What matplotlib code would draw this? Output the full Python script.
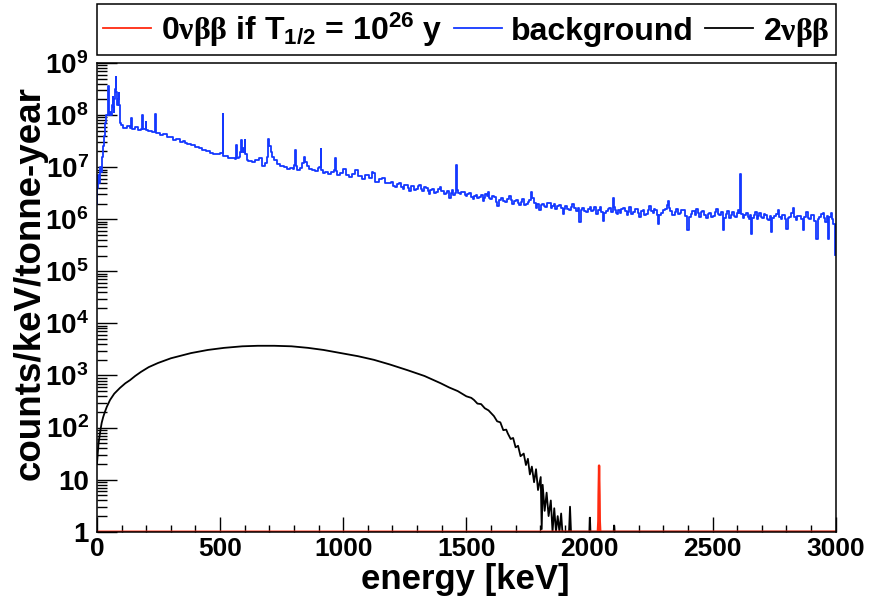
import numpy as np
import matplotlib
matplotlib.use("Agg")
import matplotlib.pyplot as plt
from matplotlib.lines import Line2D
from matplotlib.ticker import FuncFormatter, LogLocator, MultipleLocator

# ---- data (energy in keV, log10 of counts/keV/tonne-year)
bkg_energy = [
    0, 4, 8, 12, 16, 20, 24, 28, 32, 36, 40, 43, 46, 49, 52, 55, 58, 61, 64, 66,
    68, 70, 72, 74, 77, 79, 81, 84, 87, 90, 92, 94, 96, 99,
    100, 115, 130, 138, 141, 145, 160, 175, 182, 184, 187, 196, 198, 200,
    215, 230, 236, 238, 241, 250, 260, 275, 290,
    300, 315, 330, 345, 352, 360, 375, 390,
    405, 420, 435, 450, 465, 480, 495,
    506, 509, 511, 514, 525, 540, 555, 563, 567, 571, 580, 584, 587, 591, 595, 598,
    601, 605, 610,
    620, 635, 650, 662, 675, 689, 694, 698, 702, 709, 716, 723, 735, 750, 765, 777, 790,
    800, 804, 807, 810, 818, 830, 838, 842, 847, 855, 868, 880, 892, 900, 907, 910,
    913, 920,
    932, 946, 958, 966, 969, 972, 980, 994, 1007, 1015, 1028, 1040, 1055, 1068, 1082,
    1096, 1110, 1120, 1123, 1137, 1150, 1164, 1177, 1190,
    1200, 1207, 1215, 1222, 1230, 1237, 1245, 1252, 1260, 1265, 1271, 1278, 1285, 1292,
    1300, 1306, 1312, 1318, 1325, 1332, 1340, 1345, 1350, 1357, 1365, 1372, 1380, 1387,
    1395, 1400, 1406, 1413, 1420, 1426, 1433, 1439, 1445, 1450, 1455, 1458, 1461,
    1465, 1470, 1475, 1482, 1490, 1495,
    1500, 1507, 1515, 1522, 1530, 1535, 1541, 1548, 1555, 1562, 1570, 1575, 1580, 1585,
    1589, 1595, 1600, 1607, 1615, 1622, 1630, 1637, 1645, 1652, 1660, 1668, 1677, 1683,
    1690, 1697, 1705, 1711, 1718, 1724, 1730, 1737, 1745, 1752, 1760, 1765, 1770, 1777,
    1785, 1792, 1799, 1805, 1810, 1817, 1825, 1832, 1840, 1846, 1853, 1859, 1865, 1872,
    1880, 1887, 1894, 1900, 1905, 1912, 1920, 1927, 1935, 1942, 1950, 1956, 1962, 1968,
    1975, 1982, 1990, 1997, 2005, 2010, 2016, 2023, 2030, 2037, 2045, 2051, 2057, 2063,
    2070, 2077, 2085, 2091, 2097, 2101, 2105, 2110,
    2115, 2120, 2124, 2132, 2140, 2147, 2155, 2160, 2165, 2172, 2180, 2187, 2195, 2200,
    2205, 2212, 2220, 2227, 2235, 2240, 2246, 2253, 2260, 2265, 2270, 2275, 2280, 2287,
    2295, 2302, 2310, 2316, 2321, 2326, 2330, 2337,
    2345, 2350, 2354, 2362, 2370, 2377, 2385, 2393, 2402, 2408, 2415, 2420, 2425, 2430,
    2436, 2443, 2450, 2456, 2462, 2469, 2476, 2483, 2490, 2497, 2505, 2511,
    2517, 2523, 2530, 2537, 2544, 2550, 2555, 2562, 2570, 2577, 2584, 2590, 2596, 2600,
    2605, 2611, 2614, 2618, 2625, 2632, 2640, 2645, 2650, 2655, 2659, 2665, 2670, 2676,
    2682, 2688, 2693, 2699, 2705, 2711,
    2718, 2724, 2730, 2735, 2740, 2746, 2752, 2760, 2768, 2774, 2780, 2786, 2792, 2797,
    2802, 2808, 2815, 2822, 2829, 2835, 2840, 2847, 2855, 2862, 2869, 2876, 2883, 2889,
    2895, 2902, 2910, 2917,
    2924, 2930, 2935, 2943, 2951, 2956, 2960, 2966, 2971, 2978, 2985, 2989, 2993, 2998,
]
bkg_log = [
    6.30, 6.60, 6.85, 6.70, 7.00, 6.90, 7.20, 7.40, 7.60, 7.85, 8.00, 8.00, 8.55, 8.05, 8.00, 8.05, 8.00, 8.02, 8.20, 8.35,
    8.15, 8.05, 8.30, 8.50, 8.74, 8.45, 8.30, 8.20, 8.30, 8.42, 8.20, 8.05, 7.85, 7.80,
    7.80, 7.76, 7.79, 7.76, 7.94, 7.74, 7.77, 7.72, 7.74, 8.00, 7.73, 7.74, 7.87, 7.72,
    7.70, 7.68, 7.67, 8.02, 7.66, 7.66, 7.62, 7.64, 7.58,
    7.57, 7.53, 7.54, 7.48, 7.51, 7.47, 7.44, 7.43,
    7.39, 7.36, 7.33, 7.31, 7.28, 7.26, 7.25,
    7.28, 7.27, 8.03, 7.22, 7.21, 7.18, 7.17, 7.16, 7.43, 7.17, 7.20, 7.30, 7.52, 7.30, 7.36, 7.30,
    7.52, 7.25, 7.14,
    7.12, 7.10, 7.13, 7.17, 7.03, 7.08, 7.20, 7.54, 7.40, 7.30, 7.20, 7.14, 7.06, 7.02, 7.00, 6.97, 6.99,
    6.96, 7.05, 7.33, 7.02, 6.94, 6.99, 7.08, 7.19, 7.10, 7.02, 6.97, 6.95, 6.93, 6.98, 7.00, 7.35,
    6.95, 6.88,
    6.91, 6.87, 6.90, 6.95, 7.17, 6.92, 6.85, 6.88, 6.97, 6.84, 6.82, 6.86, 6.94, 6.83, 6.78,
    6.84, 6.80, 6.90, 6.88, 6.72, 6.78, 6.80, 6.70, 6.69,
    6.72, 6.64, 6.62, 6.68, 6.70, 6.61, 6.58, 6.65, 6.66, 6.60, 6.55, 6.63, 6.64, 6.57,
    6.58, 6.63, 6.66, 6.59, 6.55, 6.62, 6.60, 6.54, 6.48, 6.56, 6.58, 6.51, 6.52, 6.59,
    6.61, 6.55, 6.54, 6.49, 6.50, 6.55, 6.40, 6.50, 6.56, 6.47, 6.50, 6.55, 7.04,
    6.57, 6.50, 6.48, 6.53, 6.52, 6.46,
    6.44, 6.49, 6.50, 6.43, 6.38, 6.45, 6.47, 6.40, 6.42, 6.46, 6.35, 6.41, 6.48, 6.44,
    6.52, 6.41, 6.38, 6.44, 6.42, 6.34, 6.25, 6.36, 6.40, 6.35, 6.33, 6.39, 6.44, 6.37,
    6.30, 6.35, 6.37, 6.31, 6.28, 6.34, 6.38, 6.27, 6.30, 6.33, 6.36, 6.52, 6.40, 6.31,
    6.22, 6.29, 6.17, 6.27, 6.30, 6.25, 6.24, 6.31, 6.32, 6.22, 6.26, 6.30, 6.20, 6.25,
    6.28, 6.21, 6.10, 6.20, 6.25, 6.19, 6.18, 6.24, 6.30, 6.21, 6.16, 6.22, 5.95, 6.18,
    6.22, 6.15, 6.14, 6.20, 6.24, 6.16, 6.18, 6.23, 6.10, 6.17, 6.23, 6.14, 5.97, 6.12,
    6.15, 6.20, 6.22, 6.14, 6.40, 6.24, 6.18, 6.12,
    6.10, 6.17, 6.12, 6.19, 6.22, 6.15, 6.08, 6.14, 6.23, 6.11, 6.13, 6.19, 6.20, 6.12,
    6.05, 6.15, 6.18, 6.09, 6.10, 6.17, 6.25, 6.16, 6.12, 6.19, 6.18, 6.09, 5.90, 6.08,
    6.12, 6.17, 6.20, 6.28, 6.35, 6.22, 6.15, 6.09,
    6.08, 6.14, 6.20, 6.10, 6.12, 6.18, 6.17, 6.06, 5.80, 6.04, 6.10, 6.16, 6.15, 6.08,
    6.20, 6.12, 6.05, 6.13, 6.15, 6.09, 6.02, 6.11, 6.12, 6.04, 6.06, 6.13,
    6.20, 6.10, 6.08, 6.14, 5.80, 6.02, 6.10, 6.15, 6.02, 6.09, 6.14, 6.07, 6.05, 6.12,
    6.18, 6.12, 6.87, 6.10, 6.03, 6.09, 6.12, 6.05, 6.00, 6.08, 5.72, 6.02, 6.08, 6.13,
    6.00, 6.06, 6.12, 6.04, 6.02, 6.10,
    6.08, 6.01, 5.98, 6.07, 5.75, 6.02, 6.06, 6.10, 6.18, 6.04, 6.00, 6.09, 6.08, 6.01,
    5.82, 6.03, 6.05, 6.12, 6.22, 6.05, 5.98, 6.06, 6.06, 6.00, 5.80, 6.05, 6.14, 6.03,
    6.00, 6.08, 6.08, 5.96,
    5.62, 6.00, 6.04, 6.10, 6.12, 6.02, 5.95, 6.06, 5.62, 6.04, 6.12, 6.00, 5.90, 5.32,
]

nu2_energy = [
    0, 3, 6, 10, 14, 19, 25, 32, 40, 53, 70, 93, 115, 134, 155, 179, 210, 248, 300,
    382, 450, 516, 590, 653, 720, 790, 857, 920, 990, 1060, 1125, 1190, 1262, 1330,
    1396, 1430, 1465, 1500, 1520, 1531, 1545, 1560, 1575, 1590, 1600, 1612, 1625,
    1638, 1650, 1662, 1668, 1680, 1690, 1700, 1710, 1720, 1733, 1742, 1750, 1758,
    1766, 1775, 1783, 1791, 1802, 1806, 1810, 1818, 1826, 1834, 1843, 1850, 1857,
    1864, 1871, 1878, 1885, 1890, 1895, 1917, 1921, 1925, 2000, 2002, 2004, 2098,
    2100, 2102, 3000,
]
nu2_log = [
    1.30, 1.50, 1.68, 1.82, 1.95, 2.09, 2.20, 2.30, 2.40, 2.53, 2.65, 2.76, 2.85, 2.91, 2.99, 3.07, 3.16, 3.24, 3.33,
    3.43, 3.49, 3.53, 3.56, 3.57, 3.57, 3.56, 3.53, 3.49, 3.43, 3.37, 3.30, 3.21, 3.10, 2.99,
    2.85, 2.77, 2.70, 2.60, 2.57, 2.53, 2.46, 2.45, 2.37, 2.33, 2.28, 2.22, 2.12,
    2.10, 1.95, 1.96, 1.89, 1.78, 1.80, 1.62, 1.65, 1.45, 1.50, 1.28, 1.40, 1.10,
    1.25, 0.95, 1.20, 0.80, 1.05, 0.05, 0.90, 0.40, 0.75, 0.30, 0.60, 0.00, 0.45,
    0.00, 0.30, 0.00, 0.35, 0.00, 0.00, 0.00, 0.48, 0.00, 0.00, 0.27, 0.00, 0.00,
    0.12, 0.00, 0.00,
]

nu0_energy = [0, 2034, 2036, 2037, 2039, 2041, 2042, 2044, 3000]
nu0_log = [0.00, 0.00, 0.20, 0.70, 1.27, 0.70, 0.20, 0.00, 0.00]

labels = [r"0$\mathrm{\nu\beta\beta}$ if T$_{1/2}$ = 10$^{26}$ y",
          "background",
          r"2$\mathrm{\nu\beta\beta}$"]
colors = ["#ff2a10", "#1438ff", "black"]

plt.rcParams.update({
    "font.family": "Liberation Sans",
    "font.weight": "bold",
    "mathtext.fontset": "custom",
    "mathtext.rm": "Liberation Serif",
    "mathtext.bf": "Liberation Sans:bold",
    "mathtext.it": "Liberation Sans:bold",
    "mathtext.default": "bf",
})

W, H = 869, 601
fig = plt.figure(figsize=(W / 100, H / 100), dpi=100)
x0, x1, y0, y1 = 97, 835.7, 63, 531.7
ax = fig.add_axes([x0 / W, 1 - y1 / H, (x1 - x0) / W, (y1 - y0) / H])

lw = 1.3
ax.plot(nu2_energy, 10 ** np.array(nu2_log), color=colors[2], lw=lw)
ax.plot(bkg_energy, 10 ** np.array(bkg_log), color=colors[1], lw=lw,
        drawstyle="steps-mid")
ax.plot(nu0_energy, 10 ** np.array(nu0_log), color=colors[0], lw=lw * 1.3)

ax.set_yscale("log")
ax.set_xlim(0, 3000)
ax.set_ylim(1, 1e9)
ax.xaxis.set_major_locator(MultipleLocator(500))
ax.xaxis.set_minor_locator(MultipleLocator(100))
ax.yaxis.set_major_locator(LogLocator(base=10, numticks=20))
ax.yaxis.set_minor_locator(LogLocator(base=10, subs=(2, 3, 4, 5, 6, 7, 8, 9), numticks=100))


def ylab(v, pos):
    n = int(round(np.log10(v)))
    if n == 0:
        return "1"
    if n == 1:
        return "10"
    return r"$10^{%d}$" % n


ax.yaxis.set_major_formatter(FuncFormatter(ylab))
ax.tick_params(which="both", direction="in", top=False, right=False, labelsize=19, width=1.0)
ax.tick_params(axis="y", which="major", length=14.4, pad=6, labelsize=20)
ax.tick_params(axis="y", which="minor", length=7.2)
ax.tick_params(axis="x", which="major", length=10.8, pad=4)
ax.tick_params(axis="x", which="minor", length=5.4)
for s in ax.spines.values():
    s.set_linewidth(1.1)

fig.text(465 / W, 1 - 579 / H, "energy [keV]", ha="center", va="center", fontsize=25)
fig.text(30 / W, 1 - 283 / H, "counts/keV/tonne-year", ha="center", va="center",
         rotation=90, fontsize=26.5)

handles = [Line2D([], [], color=c, lw=lw) for c in colors]
leg = fig.legend(handles, labels, ncol=3, mode="expand", loc="center",
                 bbox_to_anchor=(x0 / W, 1 - 56 / H, (x1 - x0) / W, 53 / H),
                 fontsize=23, frameon=True, fancybox=False, framealpha=1,
                 edgecolor="black", handlelength=1.5, handletextpad=0.3,
                 columnspacing=0.3, borderpad=0.2, borderaxespad=0)
leg.get_frame().set_linewidth(1.1)

fig.savefig("out.png", dpi=100)
